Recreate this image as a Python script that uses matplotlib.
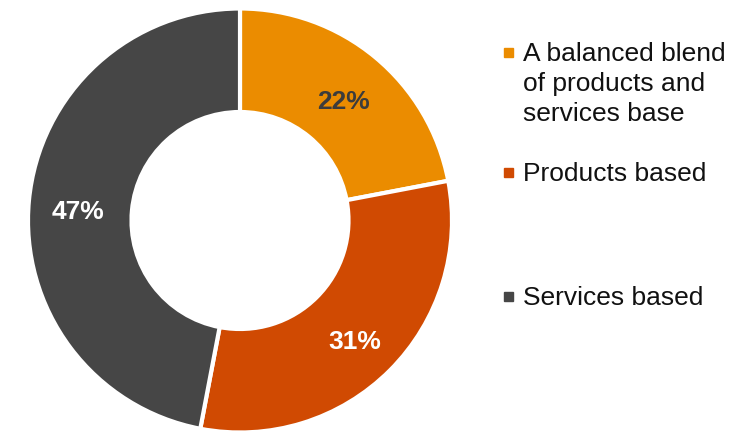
import matplotlib
matplotlib.use("Agg")
import matplotlib.pyplot as plt
from matplotlib.patches import Rectangle
import numpy as np

categories = ["A balanced blend\nof products and\nservices base", "Products based", "Services based"]
shares = [22, 31, 47]
colors = ["#EB8C00", "#D04A02", "#464646"]
label_colors = ["#3C3C3C", "white", "white"]

W, H = 756, 434
fig = plt.figure(figsize=(W / 100, H / 100), dpi=100)
plt.rcParams["font.family"] = ["Liberation Sans", "DejaVu Sans"]

# donut geometry in pixels
cx, cy, R = 240, 220.5, 212
ax = fig.add_axes([(cx - R) / W, (H - cy - R) / H, 2 * R / W, 2 * R / H])

inner = 108.5 / R
wedges, _ = ax.pie(shares, colors=colors, startangle=90, counterclock=False,
                   radius=1, wedgeprops=dict(width=1 - inner, edgecolor="white", linewidth=3))
ax.set_xlim(-1, 1)
ax.set_ylim(-1, 1)
ax.set_aspect("equal")
ax.axis("off")

mid_r = (1 + inner) / 2 + 0.01
for w, v, tc in zip(wedges, shares, label_colors):
    ang = np.deg2rad((w.theta1 + w.theta2) / 2)
    ax.text(mid_r * np.cos(ang), mid_r * np.sin(ang) - 0.03, f"{v}%", ha="center", va="center",
            fontsize=19, fontweight="bold", color=tc)

# legend drawn by hand
legend_y = [52, 172, 296]
for lab, col, y in zip(categories, colors, legend_y):
    s = 9
    fig.add_artist(Rectangle(((508 - s / 2) / W, (H - y - s / 2) / H), s / W, s / H,
                             transform=fig.transFigure, color=col))
    fig.text(523 / W, (H - y) / H + 0.022, lab, ha="left", va="top", fontsize=19,
             color="#111111", linespacing=1.3)

fig.savefig("out.png", dpi=100)
